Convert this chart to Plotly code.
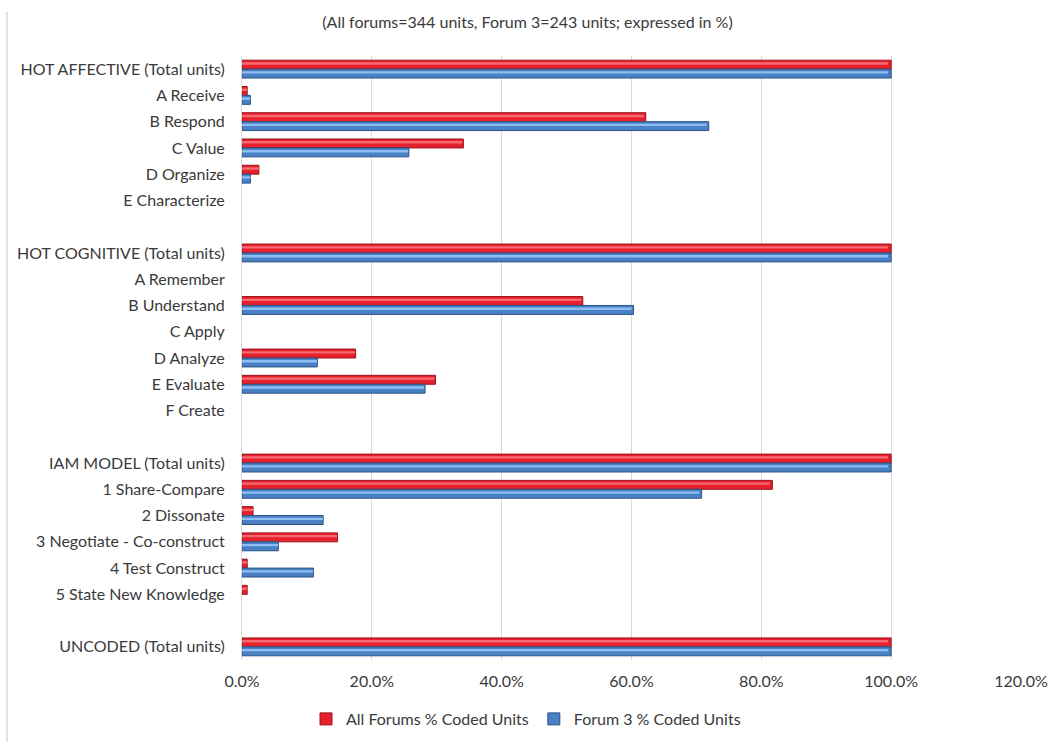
import plotly.graph_objects as go

# Category rows, top to bottom (empty strings are spacer rows between blocks)
categories = [
    "HOT AFFECTIVE (Total units)", "A Receive", "B Respond", "C Value",
    "D Organize", "E Characterize", "",
    "HOT COGNITIVE (Total units)", "A Remember", "B Understand", "C Apply",
    "D Analyze", "E Evaluate", "F Create", "",
    "IAM MODEL (Total units)", "1 Share-Compare", "2 Dissonate",
    "3 Negotiate - Co-construct", "4 Test Construct", "5 State New Knowledge", "",
    "UNCODED (Total units)",
]

# Percent of coded units
all_forums = [100.0, 0.8, 62.2, 34.1, 2.6, 0.0, None,
              100.0, 0.0, 52.5, 0.0, 17.5, 29.8, 0.0, None,
              100.0, 81.7, 1.7, 14.7, 0.8, 0.8, None,
              100.0]
forum3 = [100.0, 1.3, 71.9, 25.7, 1.3, 0.0, None,
          100.0, 0.0, 60.3, 0.0, 11.6, 28.2, 0.0, None,
          100.0, 70.8, 12.5, 5.6, 11.0, 0.0, None,
          100.0]

series_names = ["All Forums % Coded Units", "Forum 3 % Coded Units"]
x_ticks = [0, 20, 40, 60, 80, 100, 120]
x_tick_labels = ["0.0%", "20.0%", "40.0%", "60.0%", "80.0%", "100.0%", "120.0%"]

rows = list(range(len(categories)))
BAR_W = 0.34
FONT = "Lato"
FS = 16
TXT = "#3A3A3A"

fig = go.Figure()

styles = [
    # (fill, outline, highlight, offset)
    ("#E4212C", "#9E1219", "#F86A72", -BAR_W),
    ("#4A80C4", "#2B5486", "#8CBEF2", 0.0),
]

for name, vals, (fill, edge, hi, off) in zip(series_names, [all_forums, forum3], styles):
    # no outline on empty bars so zero values leave no sliver
    edge_w = [1 if v else 0 for v in vals]
    fig.add_trace(go.Bar(
        name=name, y=rows, x=vals, orientation="h",
        width=BAR_W, offset=off,
        marker=dict(color=fill, line=dict(color=edge, width=edge_w)),
    ))
    # glossy highlight stripe across the upper part of each bar
    fig.add_trace(go.Bar(
        y=rows, x=[v * 0.995 if v else None for v in vals], orientation="h",
        width=0.09, offset=off + 0.08,
        marker=dict(color=hi, line=dict(width=0)),
        showlegend=False, hoverinfo="skip",
    ))

fig.update_layout(
    width=1055, height=742,
    margin=dict(l=242, r=34, t=56, b=82, autoexpand=False),
    paper_bgcolor="white", plot_bgcolor="white",
    barmode="overlay",
    font=dict(family=FONT, size=FS, color=TXT),
    title=dict(
        text="(All forums=344 units, Forum 3=243 units; expressed in %)",
        x=0.5, xref="container", xanchor="center",
        y=1 - 22 / 742, yref="container", yanchor="middle",
        font=dict(family=FONT, size=FS, color=TXT),
    ),
    xaxis=dict(
        range=[0, 120], tickvals=x_ticks, ticktext=x_tick_labels,
        showgrid=True, gridcolor="#D9D9D9", gridwidth=1,
        zeroline=False, showline=False, ticks="",
        tickfont=dict(family=FONT, size=FS, color=TXT),
        ticklabelstandoff=10, automargin=False,
        fixedrange=True,
    ),
    yaxis=dict(
        range=[len(categories) - 0.5, -0.5],
        tickvals=rows, ticktext=categories,
        showgrid=False, zeroline=False, ticks="",
        showline=True, linecolor="#D9D9D9", linewidth=1,
        tickfont=dict(family=FONT, size=FS, color=TXT),
        ticklabelstandoff=13, automargin=False,
    ),
    legend=dict(
        orientation="h",
        x=306 / 1055, xref="container", xanchor="left",
        y=(742 - 719) / 742, yref="container", yanchor="middle",
        font=dict(family=FONT, size=FS, color=TXT),
        itemwidth=30,
    ),
    showlegend=True,
)

# thin frame line on the left edge of the chart area
fig.add_shape(type="line", xref="paper", yref="paper",
              x0=(7 - 242) / 779, x1=(7 - 242) / 779,
              y0=(660 - 12) / 604, y1=(660 - 745) / 604,
              line=dict(color="#D9D9D9", width=1.5))

fig.write_html("out.html")
